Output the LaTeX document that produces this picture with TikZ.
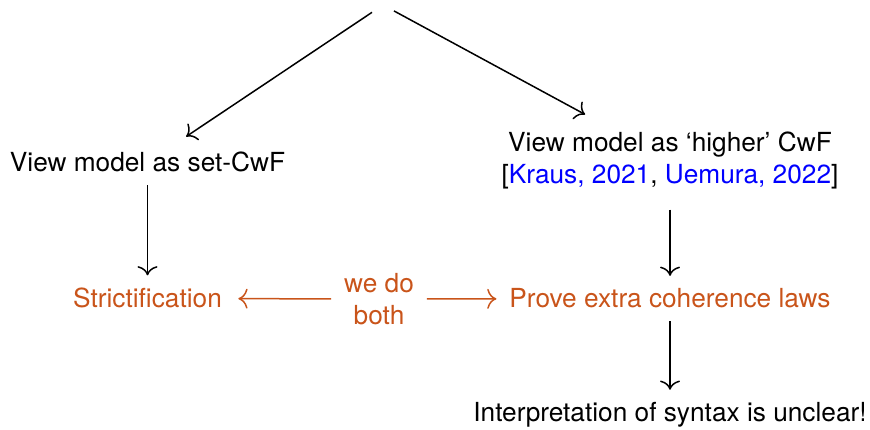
\documentclass[tikz,border=0pt]{standalone}
\usepackage{fontspec}
\setmainfont{TeX Gyre Heros}
\usetikzlibrary{arrows.meta}
\definecolor{burnt}{RGB}{201,84,26}
\definecolor{citeblue}{RGB}{0,0,255}
\begin{document}
\begin{tikzpicture}[x=0.4pt,y=-0.4pt,
  every node/.style={font=\fontsize{10.5}{13}\selectfont, inner sep=5pt},
  lbl/.style={anchor=base},
  hl/.style={text=burnt},
  arr/.style={-{Computer Modern Rightarrow[length=3.7pt,width=8pt]}, line width=0.6pt},
  harr/.style={arr, draw=burnt}]
\useasboundingbox (0,0) rectangle (870,430);

% empty source at the top of the diagram
\node[inner sep=0pt, minimum width=8.4pt, minimum height=5.6pt] (root) at (383,5) {};

% left column
\node[lbl] (set) at (147.5,172) {View model as set-CwF};
\node[lbl,hl] (strict) at (147.5,308) {Strictification};

% right column
\node[align=center] (higher) at (670,160.5)
  {View model as ‘higher’ CwF\\{[}\textcolor{citeblue}{Kraus, 2021}, \textcolor{citeblue}{Uemura, 2022}{]}};
\node[lbl,hl] (prove) at (670,308) {Prove extra coherence laws};
\node[lbl] (interp) at (670,422) {Interpretation of syntax is unclear!};

% middle label
\node[align=center,hl] (mid) at (379,299) {we do\\both};

% connectors
\draw[arr, shorten >=2pt] (root) -- (set);
\draw[arr, shorten >=3.5pt] (root) -- (higher);
\draw[arr] (set) -- (strict);
\draw[arr, shorten <=2.9pt] (higher) -- (prove);
\draw[arr] (prove) -- (interp);
\draw[harr, shorten >=1.4pt] (mid) -- (strict);
\draw[harr] (mid) -- (prove);
\end{tikzpicture}
\end{document}
